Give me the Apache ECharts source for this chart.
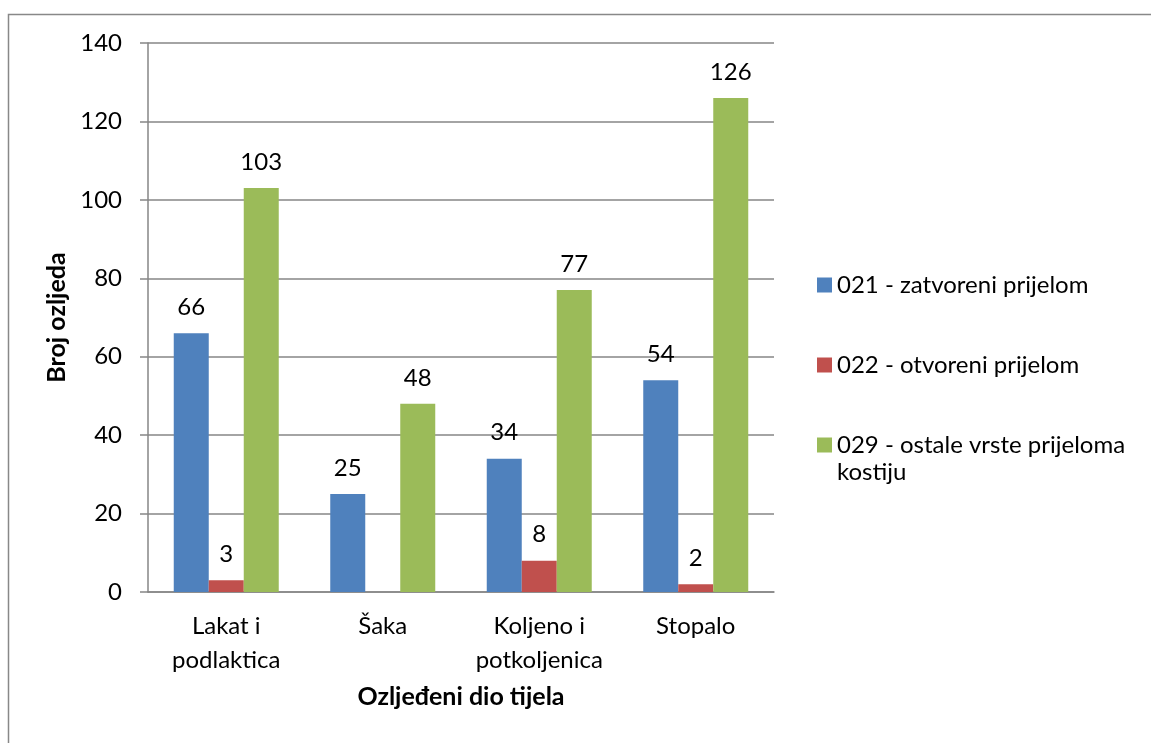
<!DOCTYPE html>
<html><head><meta charset="utf-8">
<script src="https://cdn.jsdelivr.net/npm/echarts@6/dist/echarts.min.js"></script>
<style>html,body{margin:0;padding:0;background:#fff;}#c{width:1151px;height:743px;}</style>
</head><body><div id="c"></div>
<script>
const categories = ['Lakat i\npodlaktica', 'Šaka', 'Koljeno i\npotkoljenica', 'Stopalo'];
const seriesNames = ['021 - zatvoreni prijelom', '022 - otvoreni prijelom', '029 - ostale vrste prijeloma kostiju'];
const zatvoreni = [66, 25, 34, 54];
const otvoreni = [3, null, 8, 2];
const ostale = [103, 48, 77, 126];
const yTicks = {min: 0, max: 140, interval: 20};

const FONT = 'Lato';
const colors = ['#4F81BD', '#C0504D', '#9BBB59'];
const values = [zatvoreni, otvoreni, ostale];

const chart = echarts.init(document.getElementById('c'));
const legendTops = [271, 351, 404.5];
chart.setOption({
  animation: false,
  textStyle: {fontFamily: FONT, color: '#000'},
  graphic: [{
    type: 'rect', shape: {x: 8.5, y: 14.5, width: 1300, height: 900},
    style: {fill: 'none', stroke: '#888', lineWidth: 1.5}, silent: true
  }],
  grid: {left: 148, top: 43, width: 626, height: 549},
  legend: seriesNames.map((n, i) => ({
    data: [n], left: 817, top: legendTops[i], padding: 0, itemWidth: 15, itemHeight: 15, icon: 'rect',
    formatter: i === 2 ? () => ' \n029 - ostale vrste prijeloma\nkostiju' : undefined,
    textStyle: i === 2 ? {fontFamily: FONT, fontSize: 24, color: '#000', lineHeight: 27}
                       : {fontFamily: FONT, fontSize: 24, color: '#000', lineHeight: 28},
    selectedMode: false
  })),
  xAxis: {
    type: 'category', data: categories,
    name: 'Ozljeđeni dio tijela', nameLocation: 'middle', nameGap: 92,
    nameTextStyle: {fontFamily: FONT, fontSize: 25, fontWeight: 'bold', color: '#000'},
    axisLine: {lineStyle: {color: '#868686', width: 1.5}},
    axisTick: {show: false},
    axisLabel: {fontFamily: FONT, fontSize: 24, color: '#000', lineHeight: 34, margin: 17, interval: 0}
  },
  yAxis: {
    type: 'value', min: yTicks.min, max: yTicks.max, interval: yTicks.interval,
    name: 'Broj ozljeda', nameLocation: 'middle', nameGap: 76, nameRotate: 90,
    nameTextStyle: {fontFamily: FONT, fontSize: 25, fontWeight: 'bold', color: '#000'},
    axisLine: {show: true, lineStyle: {color: '#868686', width: 1.5}},
    axisTick: {show: true, inside: false, length: 8, lineStyle: {color: '#868686', width: 1.5}},
    splitLine: {lineStyle: {color: '#868686', width: 1.5}},
    axisLabel: {fontFamily: FONT, fontSize: 24, color: '#000', margin: 26}
  },
  series: seriesNames.map((n, i) => ({
    name: n, type: 'bar', data: values[i], barWidth: 35, barGap: '0%',
    itemStyle: {color: colors[i]},
    label: {show: true, position: 'top', distance: 14, fontFamily: FONT, fontSize: 24, color: '#000'}
  }))
});
</script></body></html>
